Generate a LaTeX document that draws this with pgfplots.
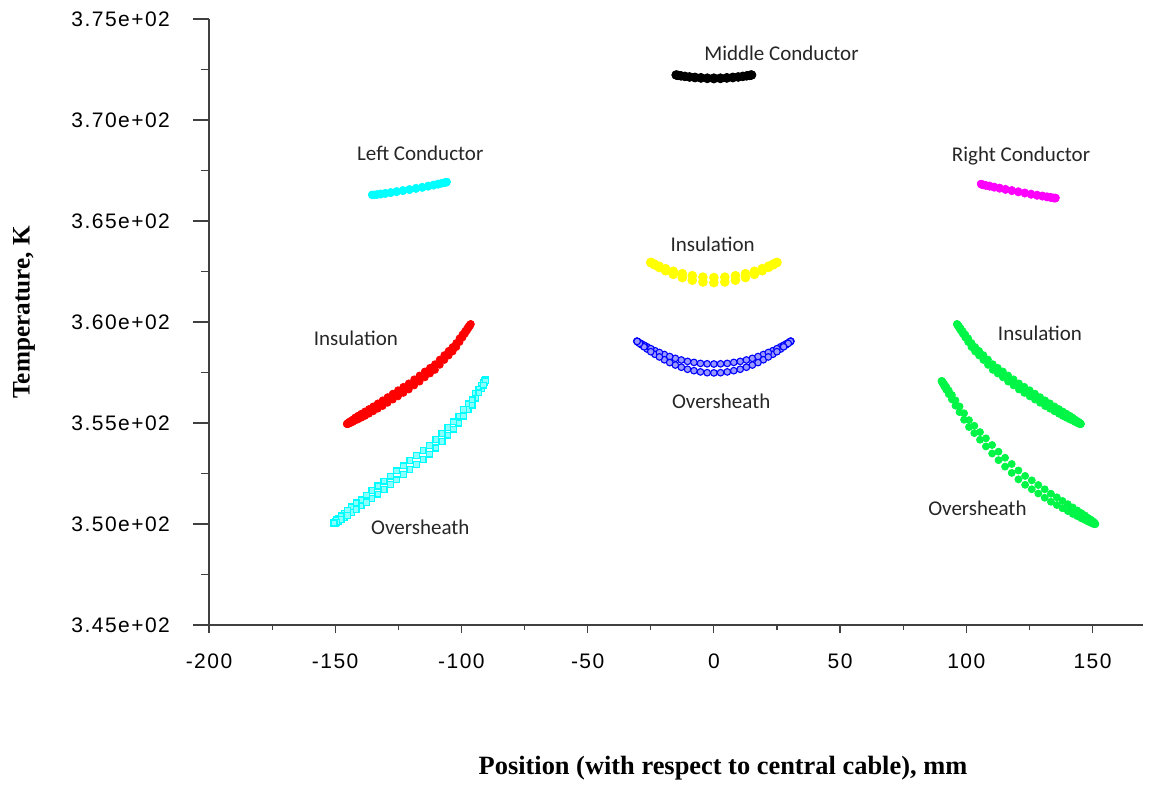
\documentclass[border=0pt]{standalone}
\usepackage{fontspec}
\setmainfont{Liberation Sans}
\newfontfamily\tickfont{Liberation Sans}[LetterSpace=7]
\newfontfamily\labfont{Liberation Serif}
\newfontfamily\calfont{Carlito}
\usepackage{pgfplots}
\pgfplotsset{compat=1.18}
\definecolor{mgreen}{RGB}{0,245,70}
\definecolor{mcyan}{RGB}{0,255,255}
\definecolor{mmag}{RGB}{255,0,255}
\definecolor{myel}{RGB}{255,255,0}
\definecolor{mblue}{RGB}{0,0,255}
\pgfplotsset{
  common/.style={at={(0,0)}, anchor=south west, scale only axis, width=467pt, height=303pt,
    xmin=-200, xmax=170, ymin=345, ymax=375, clip=false,
    axis line style={black!75, line width=0.6pt},
    every outer x axis line/.append style={-},
    every outer y axis line/.append style={-},
    tick style={black!75, line width=0.6pt}, tick align=outside},
  pts/.style={only marks, mark=*, mark size=#1},
  redm/.style={pts=1.75pt, mark options={draw=red, fill=red}},
  greenm/.style={pts=1.75pt, mark options={draw=mgreen, fill=mgreen}},
  bluem/.style={pts=1.65pt, mark options={draw=mblue, fill=mblue!40!white, line width=0.55pt}},
  cyansq/.style={only marks, mark=square*, mark size=1.45pt, mark options={draw=mcyan, fill=mcyan!45!white, line width=0.65pt}}
}
\tikzset{ann/.style={font=\calfont\fontsize{10.5}{12}\selectfont, text=black!85}}
\begin{document}
\begin{tikzpicture}
\useasboundingbox (-104.5pt,-81pt) rectangle (471.5pt,312.5pt);
% x axis with short ticks
\begin{axis}[common, hide y axis, axis x line*=bottom,
  major tick length=4pt, minor tick length=2.5pt,
  xtick={-200,-150,-100,-50,0,50,100,150},
  xticklabels={-200,-150,-100,-50,0,50,100,150},
  minor x tick num=1,
  xticklabel style={font=\tickfont\fontsize{10.5}{12}\selectfont, yshift=-7pt},
  xlabel={Position (with respect to central cable), mm},
  xlabel style={font=\labfont\bfseries\fontsize{13.2}{15}\selectfont, at={(axis description cs:0.5503,-0.236)}, anchor=center}
]
\end{axis}
\begin{axis}[common, hide x axis, axis y line*=left,
  major tick length=8pt, minor tick length=4pt,
  ytick={345,350,355,360,365,370,375},
  yticklabels={3.45e+02,3.50e+02,3.55e+02,3.60e+02,3.65e+02,3.70e+02,3.75e+02},
  minor y tick num=1,
  yticklabel style={font=\tickfont\fontsize{10.5}{12}\selectfont, xshift=-8pt},
  ylabel={Temperature, K},
  ylabel style={font=\labfont\bfseries\fontsize{12.6}{14}\selectfont, at={(axis description cs:-0.198,0.5157)}, anchor=center}
]
% Middle conductor
\addplot[pts=2.1pt, mark options={draw=black, fill=black}] coordinates {
(15.0,372.23) (14.77,372.23) (14.10,372.21) (12.99,372.19) (11.49,372.17) (9.64,372.14) (7.50,372.12) (5.13,372.10) (2.60,372.08) (0,372.08) (-2.60,372.08) (-5.13,372.10) (-7.50,372.12) (-9.64,372.14) (-11.49,372.17) (-12.99,372.19) (-14.10,372.21) (-14.77,372.23) (-15.0,372.23)
(14.77,372.22) (14.10,372.20) (12.99,372.18) (11.49,372.15) (9.64,372.12) (7.50,372.09) (5.13,372.07) (2.60,372.05) (0,372.04) (-2.60,372.05) (-5.13,372.07) (-7.50,372.09) (-9.64,372.12) (-11.49,372.15) (-12.99,372.18) (-14.10,372.20) (-14.77,372.22)};
% Left conductor
\addplot[pts=1.8pt, mark options={draw=mcyan, fill=mcyan}] coordinates {
(-105.75,366.94) (-105.97,366.93) (-106.64,366.92) (-107.74,366.89) (-109.22,366.85) (-111.05,366.80) (-113.18,366.75) (-115.52,366.69) (-118.02,366.64) (-120.60,366.58) (-123.18,366.53) (-125.68,366.48) (-128.03,366.43) (-130.15,366.39) (-131.98,366.36) (-133.46,366.33) (-134.56,366.31) (-135.23,366.30) (-135.45,366.30)
(-105.97,366.90) (-106.64,366.88) (-107.74,366.85) (-109.22,366.80) (-111.05,366.75) (-113.18,366.70) (-115.52,366.64) (-118.02,366.59) (-120.60,366.53) (-123.18,366.48) (-125.68,366.43) (-128.03,366.38) (-130.15,366.34) (-131.98,366.31) (-133.46,366.29) (-134.56,366.28) (-135.23,366.28)};
% Right conductor
\addplot[pts=1.8pt, mark options={draw=mmag, fill=mmag}] coordinates {
(135.45,366.15) (135.23,366.15) (134.56,366.16) (133.46,366.19) (131.98,366.22) (130.15,366.26) (128.03,366.30) (125.68,366.35) (123.18,366.41) (120.60,366.47) (118.02,366.53) (115.52,366.59) (113.18,366.65) (111.05,366.70) (109.22,366.75) (107.74,366.78) (106.64,366.81) (105.97,366.83) (105.75,366.84)
(135.23,366.11) (134.56,366.12) (133.46,366.14) (131.98,366.17) (130.15,366.21) (128.03,366.25) (125.68,366.30) (123.18,366.36) (120.60,366.42) (118.02,366.48) (115.52,366.54) (113.18,366.60) (111.05,366.65) (109.22,366.70) (107.74,366.74) (106.64,366.77) (105.97,366.80)};
% Middle insulation
\addplot[pts=2.2pt, mark options={draw=myel, fill=myel}] coordinates {
(25.0,362.95) (24.63,362.93) (23.49,362.86) (21.65,362.76) (19.15,362.64) (16.07,362.51) (12.50,362.39) (8.55,362.29) (4.34,362.22) (0,362.20) (-4.34,362.22) (-8.55,362.29) (-12.50,362.39) (-16.07,362.51) (-19.15,362.64) (-21.65,362.76) (-23.49,362.86) (-24.63,362.93) (-25.0,362.95)
(24.63,362.92) (23.49,362.83) (21.65,362.70) (19.15,362.54) (16.07,362.36) (12.50,362.20) (8.55,362.07) (4.34,361.98) (0,361.95) (-4.34,361.98) (-8.55,362.07) (-12.50,362.20) (-16.07,362.36) (-19.15,362.54) (-21.65,362.70) (-23.49,362.83) (-24.63,362.92)};
% Middle oversheath
\addplot[bluem] coordinates {
(30.5,359.05) (30.04,359.02) (28.67,358.92) (26.41,358.77) (23.36,358.58) (19.61,358.39) (15.25,358.20) (10.43,358.05) (5.31,357.95) (0,357.92) (-5.31,357.95) (-10.43,358.05) (-15.25,358.20) (-19.61,358.39) (-23.36,358.58) (-26.41,358.77) (-28.67,358.92) (-30.04,359.02) (-30.5,359.05)
(30.04,359.00) (28.67,358.87) (26.41,358.66) (23.36,358.40) (19.61,358.13) (15.25,357.87) (10.43,357.66) (5.31,357.53) (0,357.48) (-5.31,357.53) (-10.43,357.66) (-15.25,357.87) (-19.61,358.13) (-23.36,358.40) (-26.41,358.66) (-28.67,358.87) (-30.04,359.00)};
\addplot[bluem] coordinates {
(30.38,359.04) (29.46,358.97) (27.64,358.85) (24.99,358.68) (21.57,358.49) (17.49,358.29) (12.89,358.12) (7.89,358.00) (2.66,357.93) (-2.66,357.93) (-7.89,358.00) (-12.89,358.12) (-17.49,358.29) (-21.57,358.49) (-24.99,358.68) (-27.64,358.85) (-29.46,358.97) (-30.38,359.04)
(30.38,359.04) (29.46,358.94) (27.64,358.77) (24.99,358.53) (21.57,358.27) (17.49,357.99) (12.89,357.76) (7.89,357.59) (2.66,357.49) (-2.66,357.49) (-7.89,357.59) (-12.89,357.76) (-17.49,357.99) (-21.57,358.27) (-24.99,358.53) (-27.64,358.77) (-29.46,358.94) (-30.38,359.04)};
% Left insulation
\addplot[redm] coordinates {
(-96.30,359.90) (-96.67,359.86) (-97.77,359.68) (-99.59,359.38) (-102.04,358.96) (-105.06,358.57) (-108.58,358.14) (-112.45,357.73) (-116.58,357.35) (-120.85,356.96) (-125.12,356.62) (-129.25,356.28) (-133.13,355.97) (-136.64,355.69) (-139.66,355.46) (-142.11,355.27) (-143.93,355.10) (-145.03,355.00) (-145.40,354.95)
(-96.67,359.80) (-97.77,359.58) (-99.59,359.23) (-102.04,358.76) (-105.06,358.34) (-108.58,357.88) (-112.45,357.45) (-116.58,357.05) (-120.85,356.66) (-125.12,356.32) (-129.25,356.00) (-133.13,355.71) (-136.64,355.46) (-139.66,355.26) (-142.11,355.12) (-143.93,355.00) (-145.03,354.94)};
\addplot[redm] coordinates {
(-96.39,359.89) (-97.14,359.79) (-98.60,359.54) (-100.74,359.19) (-103.49,358.76) (-106.77,358.36) (-110.48,357.91) (-114.50,357.55) (-118.71,357.16) (-122.99,356.79) (-127.20,356.45) (-131.22,356.12) (-134.93,355.82) (-138.21,355.57) (-140.96,355.36) (-143.10,355.17) (-144.56,355.05) (-145.31,354.97)
(-96.39,359.87) (-97.14,359.71) (-98.60,359.42) (-100.74,359.01) (-103.49,358.54) (-106.77,358.12) (-110.48,357.63) (-114.50,357.26) (-118.71,356.86) (-122.99,356.49) (-127.20,356.16) (-131.22,355.84) (-134.93,355.58) (-138.21,355.35) (-140.96,355.18) (-143.10,355.05) (-144.56,354.97) (-145.31,354.95)};
% Left oversheath
\addplot[cyansq] coordinates {
(-90.30,357.13) (-90.75,357.08) (-92.11,356.86) (-94.33,356.45) (-97.34,355.94) (-101.05,355.34) (-105.35,354.78) (-110.11,354.18) (-115.16,353.64) (-120.40,353.14) (-125.64,352.63) (-130.69,352.12) (-135.45,351.65) (-139.75,351.20) (-143.46,350.85) (-146.47,350.53) (-148.69,350.28) (-150.05,350.13) (-150.50,350.05)
(-90.75,357.00) (-92.11,356.71) (-94.33,356.23) (-97.34,355.66) (-101.05,355.00) (-105.35,354.40) (-110.11,353.76) (-115.16,353.20) (-120.40,352.70) (-125.64,352.19) (-130.69,351.70) (-135.45,351.27) (-139.75,350.90) (-143.46,350.57) (-146.47,350.31) (-148.69,350.14) (-150.05,350.05)};
\addplot[cyansq] coordinates {
(-90.41,357.13) (-91.33,356.99) (-93.12,356.67) (-95.74,356.14) (-99.12,355.66) (-103.13,355.06) (-107.68,354.48) (-112.61,353.88) (-117.78,353.39) (-123.02,352.88) (-128.19,352.37) (-133.12,351.88) (-137.67,351.43) (-141.68,351.04) (-145.06,350.69) (-147.68,350.40) (-149.47,350.21) (-150.39,350.08)
(-90.41,357.09) (-91.33,356.87) (-93.12,356.49) (-95.74,355.88) (-99.12,355.34) (-103.13,354.70) (-107.68,354.08) (-112.61,353.46) (-117.78,352.95) (-123.02,352.44) (-128.19,351.95) (-133.12,351.48) (-137.67,351.07) (-141.68,350.72) (-145.06,350.43) (-147.68,350.22) (-149.47,350.09) (-150.39,350.04)};
% Right insulation
\addplot[greenm] coordinates {
(96.30,359.90) (96.67,359.86) (97.77,359.68) (99.59,359.38) (102.04,358.96) (105.06,358.57) (108.58,358.14) (112.45,357.73) (116.58,357.35) (120.85,356.96) (125.12,356.62) (129.25,356.28) (133.13,355.97) (136.64,355.69) (139.66,355.46) (142.11,355.27) (143.93,355.10) (145.03,355.00) (145.40,354.95)
(96.67,359.80) (97.77,359.58) (99.59,359.23) (102.04,358.76) (105.06,358.34) (108.58,357.88) (112.45,357.45) (116.58,357.05) (120.85,356.66) (125.12,356.32) (129.25,356.00) (133.13,355.71) (136.64,355.46) (139.66,355.26) (142.11,355.12) (143.93,355.00) (145.03,354.94)};
\addplot[greenm] coordinates {
(96.39,359.89) (97.14,359.79) (98.60,359.54) (100.74,359.19) (103.49,358.76) (106.77,358.36) (110.48,357.91) (114.50,357.55) (118.71,357.16) (122.99,356.79) (127.20,356.45) (131.22,356.12) (134.93,355.82) (138.21,355.57) (140.96,355.36) (143.10,355.17) (144.56,355.05) (145.31,354.97)
(96.39,359.87) (97.14,359.71) (98.60,359.42) (100.74,359.01) (103.49,358.54) (106.77,358.12) (110.48,357.63) (114.50,357.26) (118.71,356.86) (122.99,356.49) (127.20,356.16) (131.22,355.84) (134.93,355.58) (138.21,355.35) (140.96,355.18) (143.10,355.05) (144.56,354.97) (145.31,354.95)};
% Right oversheath
\addplot[greenm] coordinates {
(90.20,357.08) (90.66,357.03) (92.03,356.80) (94.28,356.39) (97.33,355.82) (101.07,355.14) (105.43,354.55) (110.24,353.91) (115.35,353.28) (120.65,352.65) (125.95,352.16) (131.06,351.72) (135.88,351.32) (140.23,350.98) (143.97,350.67) (147.02,350.42) (149.27,350.22) (150.64,350.08) (151.10,350.00)
(90.66,356.95) (92.03,356.65) (94.28,356.17) (97.33,355.54) (101.07,354.80) (105.43,354.17) (110.24,353.49) (115.35,352.84) (120.65,352.21) (125.95,351.72) (131.06,351.30) (135.88,350.94) (140.23,350.64) (143.97,350.39) (147.02,350.20) (149.27,350.07) (150.64,350.00)};
\addplot[greenm] coordinates {
(90.32,357.08) (91.24,356.94) (93.05,356.61) (95.71,356.12) (99.12,355.48) (103.18,354.86) (107.78,354.24) (112.77,353.58) (117.99,352.97) (123.31,352.38) (128.53,351.93) (133.52,351.50) (138.12,351.14) (142.18,350.82) (145.59,350.54) (148.25,350.30) (150.06,350.14) (150.98,350.03)
(90.32,357.04) (91.24,356.82) (93.05,356.43) (95.71,355.86) (99.12,355.16) (103.18,354.50) (107.78,353.84) (112.77,353.16) (117.99,352.53) (123.31,351.94) (128.53,351.51) (133.52,351.10) (138.12,350.78) (142.18,350.50) (145.59,350.28) (148.25,350.12) (150.06,350.02) (150.98,349.99)};
% annotations
\node[ann] at (axis cs:26.8,373.32) {Middle Conductor};
\node[ann] at (axis cs:-116.3,368.37) {Left Conductor};
\node[ann] at (axis cs:121.7,368.22) {Right Conductor};
\node[ann] at (axis cs:-0.5,363.86) {Insulation};
\node[ann] at (axis cs:-141.8,359.21) {Insulation};
\node[ann] at (axis cs:129.2,359.46) {Insulation};
\node[ann] at (axis cs:2.9,356.09) {Oversheath};
\node[ann] at (axis cs:-116.3,349.85) {Oversheath};
\node[ann] at (axis cs:104.4,350.79) {Oversheath};
\end{axis}
\end{tikzpicture}
\end{document}
